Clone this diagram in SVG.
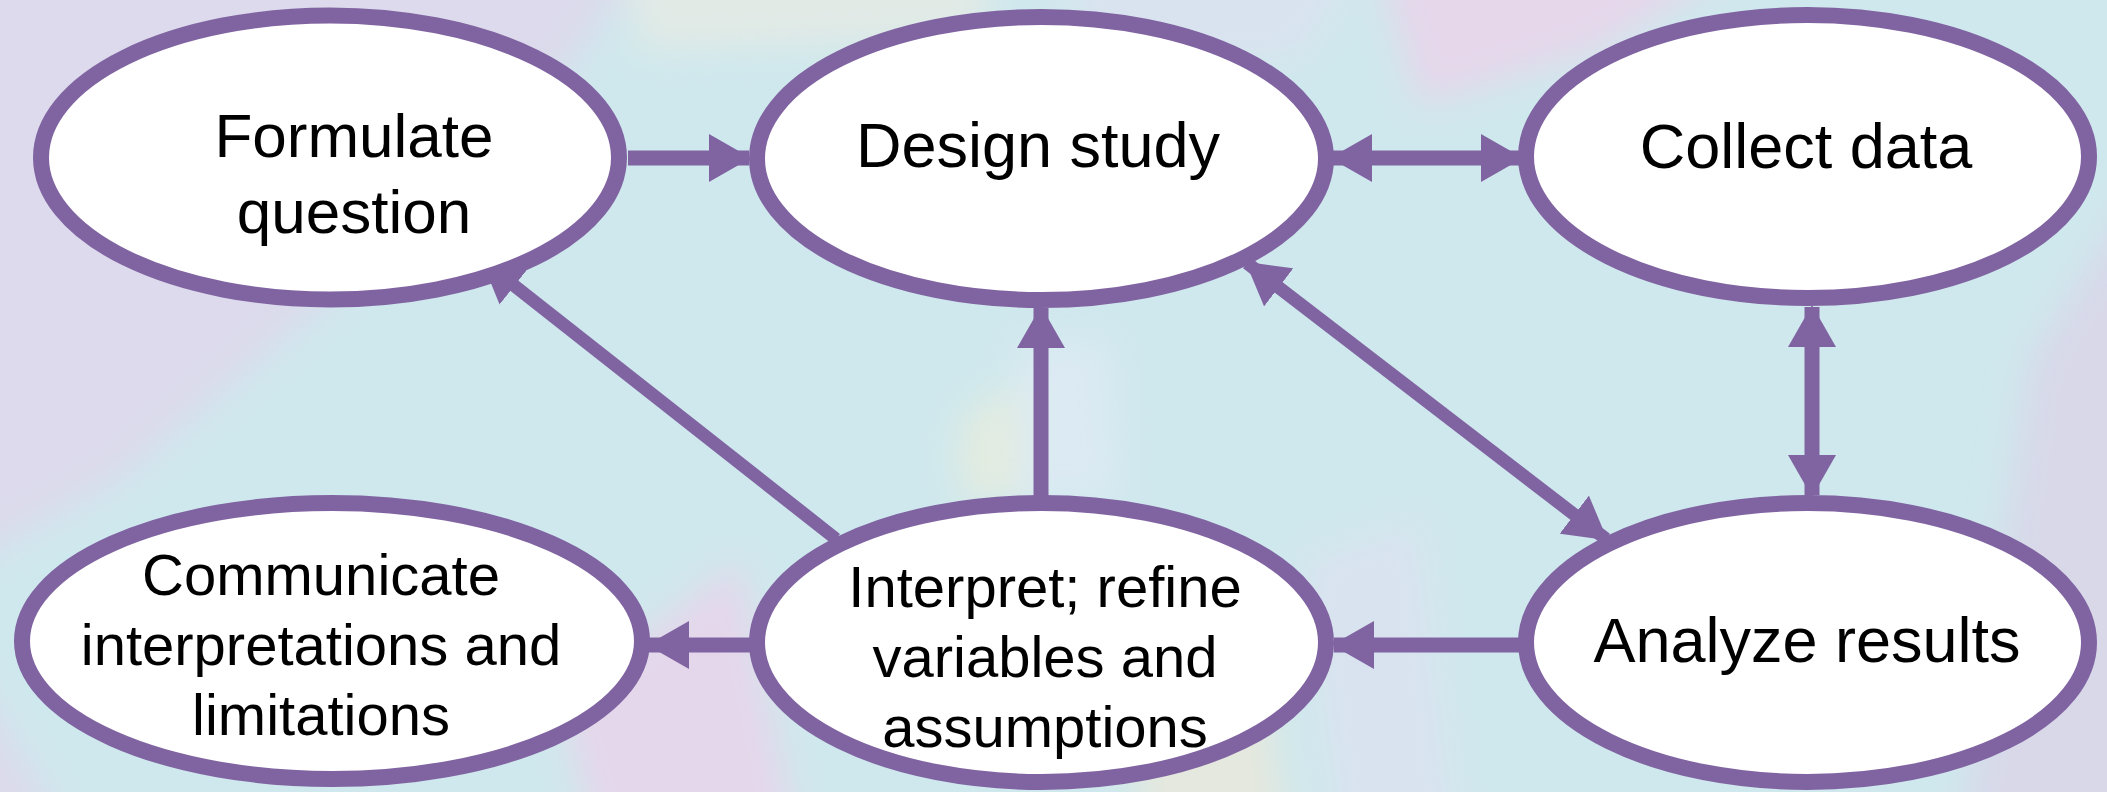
<svg xmlns="http://www.w3.org/2000/svg" width="2107" height="792" viewBox="0 0 2107 792">
  <style>
    .node { fill: #FFFFFF; stroke: #8064A2; stroke-width: 16; }
    .lbl { font-family: "Liberation Sans", Arial, sans-serif; fill: #000000; text-anchor: middle; }
    .big { font-size: 63px; }
    .small { font-size: 58px; }
    .conn { fill: none; stroke: #8064A2; stroke-width: 15; }
    .diag { stroke-width: 13; }
  </style>
  <defs>
    <marker id="ah" markerUnits="userSpaceOnUse" markerWidth="42" markerHeight="48" refX="40" refY="24" orient="auto-start-reverse" viewBox="0 0 42 48">
      <path d="M0,0 L42,24 L0,48 Z" fill="#8064A2"/>
    </marker>
    <filter id="soft" x="-20%" y="-20%" width="140%" height="140%">
      <feGaussianBlur stdDeviation="18"/>
    </filter>
  </defs>

  <g id="background">
    <rect x="0" y="0" width="2107" height="792" fill="#CFE8ED"/>
    <g filter="url(#soft)">
      <polygon points="-60,-60 660,-60 560,80 330,300 120,480 -60,580" fill="#DCDAEC"/>
      <polygon points="620,-60 1000,-60 980,40 640,50" fill="#E2EAE6"/>
      <polygon points="1040,-60 1380,-60 1300,60 1100,60" fill="#D9E3EF"/>
      <polygon points="1370,-60 1780,-60 1600,50 1420,105" fill="#E6D7EB"/>
      <polygon points="2170,140 2030,360 1960,852 2170,852" fill="#D8D8E9"/>
      <polygon points="-60,620 80,852 -60,852" fill="#DCDAEC"/>
      <polygon points="560,700 740,560 800,852 600,852" fill="#E5D7EB"/>
      <polygon points="1020,340 1110,340 1120,500 1010,500" fill="#DCEAF3"/>
      <polygon points="960,420 1020,380 1020,500 960,500" fill="#E3ECE0"/>
      <polygon points="1300,560 1420,520 1460,852 1340,852" fill="#D9E3EF"/>
      <polygon points="1120,690 1260,640 1290,852 1150,852" fill="#E5E8DE"/>
    </g>
  </g>

  <g id="connectors">
    <line class="conn" x1="628" y1="158" x2="749" y2="158" marker-end="url(#ah)"/>
    <line class="conn" x1="1332" y1="158" x2="1521" y2="158" marker-start="url(#ah)" marker-end="url(#ah)"/>
    <line class="conn" x1="1812" y1="307" x2="1812" y2="495" marker-start="url(#ah)" marker-end="url(#ah)"/>
    <line class="conn diag" x1="1247" y1="263" x2="1606" y2="539" marker-start="url(#ah)" marker-end="url(#ah)"/>
    <line class="conn" x1="1041" y1="496" x2="1041" y2="308" marker-end="url(#ah)"/>
    <line class="conn diag" x1="836" y1="539" x2="483" y2="261" marker-end="url(#ah)"/>
    <line class="conn" x1="1521" y1="645" x2="1334" y2="645" marker-end="url(#ah)"/>
    <line class="conn" x1="753" y1="645" x2="649" y2="645" marker-end="url(#ah)"/>
  </g>

  <g id="node-formulate">
    <ellipse class="node" cx="330" cy="157.5" rx="289" ry="142"/>
    <text class="lbl big" x="354" y="157" style="font-size:62px">Formulate</text>
    <text class="lbl big" x="354" y="233" style="font-size:62px">question</text>
  </g>
  <g id="node-design">
    <ellipse class="node" cx="1041.5" cy="158.5" rx="284.5" ry="141.5"/>
    <text class="lbl big" x="1038" y="167">Design study</text>
  </g>
  <g id="node-collect">
    <ellipse class="node" cx="1807.5" cy="156.5" rx="281.5" ry="141.5"/>
    <text class="lbl big" x="1806" y="168">Collect data</text>
  </g>
  <g id="node-communicate">
    <ellipse class="node" cx="332" cy="641" rx="310" ry="138"/>
    <text class="lbl small" x="321" y="595">Communicate</text>
    <text class="lbl small" x="321" y="665">interpretations and</text>
    <text class="lbl small" x="321" y="735">limitations</text>
  </g>
  <g id="node-interpret">
    <ellipse class="node" cx="1041.5" cy="642.5" rx="284.5" ry="139.5"/>
    <text class="lbl small" x="1045" y="607">Interpret; refine</text>
    <text class="lbl small" x="1045" y="677">variables and</text>
    <text class="lbl small" x="1045" y="747">assumptions</text>
  </g>
  <g id="node-analyze">
    <ellipse class="node" cx="1807.5" cy="642.5" rx="281.5" ry="139.5"/>
    <text class="lbl big" x="1807" y="662">Analyze results</text>
  </g>
</svg>
